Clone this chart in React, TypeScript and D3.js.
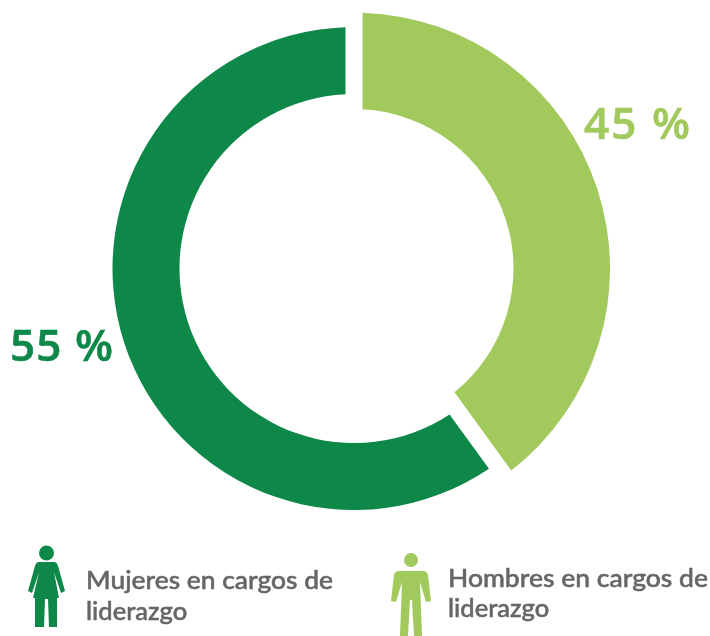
import React from "react";
import * as d3 from "d3";

// Shares as drawn in the picture (the ring is not cut in proportion to its printed labels)
const categories = ["Hombres", "Mujeres"];
const drawnShares = [40, 60];
const outerRadii = [256, 241.5];
const innerRadii = [159.5, 174.5];
const printedLabels = ["45 %", "55 %"];
const legendLines = [
  ["Hombres en cargos de", "liderazgo"],
  ["Mujeres en cargos de", "liderazgo"],
];
const colors = ["#a1c95c", "#0f8849"];
const GREY = "#666666";

const pie = d3.pie<number>().sort(null).value((d) => d);
const arcs = pie(drawnShares);
const padRadius = 100;
const padAngle = 2 * Math.asin(8.5 / padRadius);
const slicePaths = arcs.map((a, i) =>
  d3
    .arc<d3.PieArcDatum<number>>()
    .innerRadius(innerRadii[i])
    .outerRadius(outerRadii[i])
    .padRadius(padRadius)
    .padAngle(padAngle)(a) ?? ""
);

const font = "Lato, 'Noto Sans', sans-serif";
const numFont = "'Open Sans', Lato, sans-serif";

export default function App() {
  return (
    <svg
      width={710}
      height={636}
      viewBox="0 0 710 636"
      style={{ position: "fixed", left: 0, top: 0, display: "block", background: "#fff" }}
    >
      <defs>
        <filter id="soft" x="-5%" y="-5%" width="110%" height="110%">
          <feGaussianBlur stdDeviation={0.6} />
        </filter>
      </defs>
      <g filter="url(#soft)">
        <g transform="translate(354,268.5)">
          {categories.map((c, i) => (
            <path key={c} d={slicePaths[i]} fill={colors[i]} />
          ))}
        </g>
        <text x={584} y={139} fontFamily={numFont} fontWeight={600} fontSize={44} fill={colors[0]} stroke={colors[0]} strokeWidth={0.6} textLength={106} lengthAdjust="spacing">{printedLabels[0]}</text>
        <text x={10} y={361} fontFamily={numFont} fontWeight={600} fontSize={44} fill={colors[1]} stroke={colors[1]} strokeWidth={0.6} textLength={103} lengthAdjust="spacing">{printedLabels[1]}</text>

        {/* woman icon */}
        <g fill={colors[1]}>
          <circle cx={46.5} cy={553} r={7.5} />
          <path d="M39,562 L54,562 Q57,562 58,566 L65,591 L61,593 L54,572 L59,598 L57,598 L57,627 L49,627 L48,599 L45,599 L44,627 L35,627 L35,598 L33,598 L39,572 L32,593 L28,591 L35,566 Q36,562 39,562 Z" />
        </g>
        <text fontFamily={font} fontWeight={500} fontSize={25.5} fill={GREY} stroke={GREY} strokeWidth={0.5}>
          <tspan x={86} y={589} textLength={247} lengthAdjust="spacingAndGlyphs">{legendLines[1][0]}</tspan>
          <tspan x={86} y={620}>{legendLines[1][1]}</tspan>
        </text>

        {/* man icon */}
        <g fill={colors[0]}>
          <circle cx={411} cy={560} r={7} />
          <path d="M399,571 L423,571 Q427,571 428,575 L431,601 L426,602 L420,582 L422,636 L414,636 L412,600 L410,600 L408,636 L400,636 L402,582 L396,602 L391,601 L394,575 Q395,571 399,571 Z" />
        </g>
        <text fontFamily={font} fontWeight={500} fontSize={25.5} fill={GREY} stroke={GREY} strokeWidth={0.5}>
          <tspan x={448} y={587} textLength={260} lengthAdjust="spacingAndGlyphs">{legendLines[0][0]}</tspan>
          <tspan x={448} y={617}>{legendLines[0][1]}</tspan>
        </text>
      </g>
    </svg>
  );
}
